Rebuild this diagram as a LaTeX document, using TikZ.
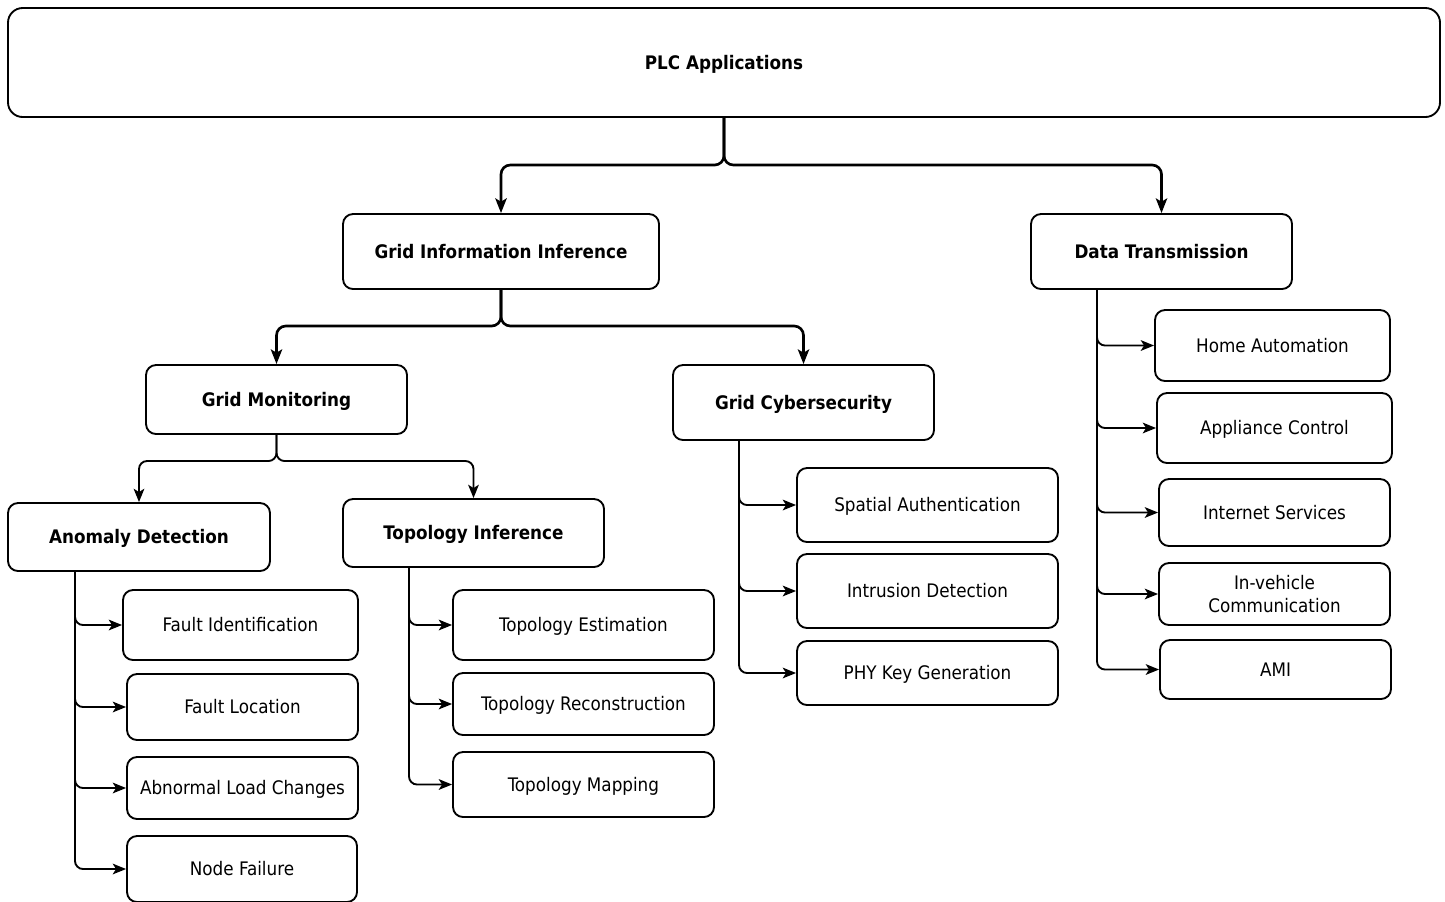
\documentclass[tikz,border=0pt]{standalone}
\usepackage{fontspec}
\setmainfont{DejaVu Sans Condensed}
\usetikzlibrary{arrows.meta}
\tikzset{
  box/.style={draw,line width=1.4pt,rounded corners=7.5pt,align=center,inner sep=0pt,text height=1em,text depth=0pt,font=\fontsize{14}{17}\selectfont},
  head/.style={box,font=\fontsize{14}{17}\selectfont\bfseries},
  wh/.style 2 args={minimum width=#1*0.75pt,minimum height=#2*0.75pt},
  main/.style={line width=2pt,rounded corners=7pt,-{Stealth[length=11pt,width=8.5pt,inset=2.5pt]}},
  sub/.style={line width=1.4pt,rounded corners=6pt,-{Stealth[length=10pt,width=8pt,inset=2.5pt]}}
}
\begin{document}
\begin{tikzpicture}[x=0.75pt,y=-0.75pt]
 \useasboundingbox (0,0) rectangle (1445,901);
 \node[head,wh={1432}{109},rounded corners=11pt] (plc) at (724,62.5) {PLC Applications};
 \node[head,wh={316}{75}] (gii) at (501,251.5) {Grid Information Inference};
 \node[head,wh={261}{75}] (dt) at (1161.5,251.5) {Data Transmission};
 \node[head,wh={261}{69}] (gm) at (276.5,399.5) {Grid Monitoring};
 \node[head,wh={261}{75}] (gc) at (803.5,402.5) {Grid Cybersecurity};
 \node[head,wh={262}{68}] (ad) at (139,537) {Anomaly Detection};
 \node[head,wh={261}{68}] (ti) at (473.5,533) {Topology Inference};
 \node[box,wh={235}{70}] (fi) at (240.5,625) {Fault Identification};
 \node[box,wh={231}{66}] (fl) at (242.5,707) {Fault Location};
 \node[box,wh={231}{62}] (alc) at (242.5,788) {Abnormal Load Changes};
 \node[box,wh={230}{66}] (nf) at (242,869) {Node Failure};
 \node[box,wh={261}{70}] (te) at (583.5,625) {Topology Estimation};
 \node[box,wh={261}{62}] (tr) at (583.5,704) {Topology Reconstruction};
 \node[box,wh={261}{65}] (tm) at (583.5,784.5) {Topology Mapping};
 \node[box,wh={261}{74}] (sa) at (927.5,505) {Spatial Authentication};
 \node[box,wh={261}{74}] (id) at (927.5,591) {Intrusion Detection};
 \node[box,wh={261}{64}] (pkg) at (927.5,673) {PHY Key Generation};
 \node[box,wh={235}{71}] (ha) at (1272.5,345.5) {Home Automation};
 \node[box,wh={235}{70}] (ac) at (1274.5,428) {Appliance Control};
 \node[box,wh={231}{67}] (is) at (1274.5,512.5) {Internet Services};
 \node[box,wh={231}{62},text height=,text depth=] (ivc) at (1274.5,594) {In-vehicle\\Communication};
 \node[box,wh={231}{59}] (ami) at (1275.5,669.5) {AMI};
 \draw[main] (plc.south) |- (gii.north |- 0,165) -- (gii.north);
 \draw[main] (plc.south) |- (dt.north |- 0,165) -- (dt.north);
 \draw[main] (gii.south) |- (gm.north |- 0,326) -- (gm.north);
 \draw[main] (gii.south) |- (gc.north |- 0,326) -- (gc.north);
 \draw[sub] (gm.south) |- (ad.north |- 0,461) -- (ad.north);
 \draw[sub] (gm.south) |- (ti.north |- 0,461) -- (ti.north);
 \coordinate (adt) at (75,571);
 \coordinate (tit) at (409,567);
 \coordinate (gct) at (739,440);
 \coordinate (dtt) at (1097,289);
 \foreach \c in {fi,fl,alc,nf} \draw[sub] (adt) |- (\c.west);
 \foreach \c in {te,tr,tm} \draw[sub] (tit) |- (\c.west);
 \foreach \c in {sa,id,pkg} \draw[sub] (gct) |- (\c.west);
 \foreach \c in {ha,ac,is,ivc,ami} \draw[sub] (dtt) |- (\c.west);
\end{tikzpicture}
\end{document}
